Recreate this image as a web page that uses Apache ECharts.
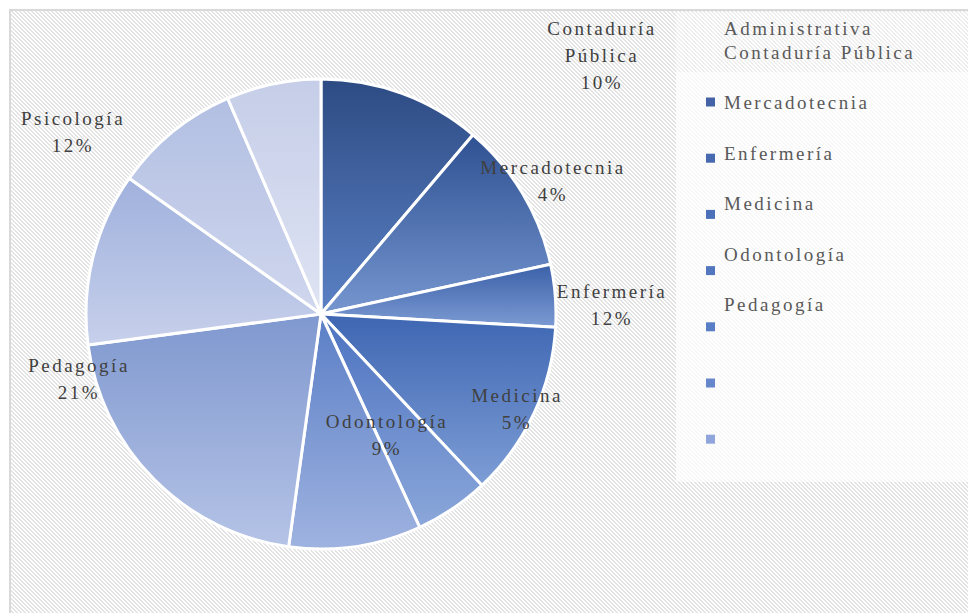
<!DOCTYPE html>
<html>
<head>
<meta charset="utf-8">
<script src="https://cdn.jsdelivr.net/npm/echarts@6/dist/echarts.min.js"></script>
<style>
html,body{margin:0;padding:0;background:#fff;}
#wrap{position:relative;width:968px;height:613px;overflow:hidden;}
#box{position:absolute;left:9px;top:9px;width:980px;height:620px;border-left:2px solid #d9d9d9;border-top:2px solid #d9d9d9;}
#chart{position:absolute;left:0;top:0;width:968px;height:613px;}
#chart text{letter-spacing:2.5px;}
</style>
</head>
<body>
<div id="wrap"><div id="box"></div><div id="chart"></div></div>
<script>
// datos del grafico
var carreras=['Administrativa','Contaduría Pública','Mercadotecnia','Enfermería','Medicina','Odontología','Pedagogía','Psicología',' ','  '];
var valores=[11.2,10.4,4.3,12.1,5.1,9.1,20.7,11.9,8.7,6.5];
var conEtiqueta=['Contaduría Pública','Mercadotecnia','Enfermería','Medicina','Odontología','Pedagogía','Psicología'];
var leyendaMarcas=['Mercadotecnia','Enfermería','Medicina','Odontología','Pedagogía','Psicología',' '];
var leyendaTextos=['Mercadotecnia','Enfermería','Medicina','Odontología','Pedagogía'];
var encabezado=['Administrativa','Contaduría Pública'];

// colores (arriba -> abajo) de cada rebanada
var colArriba=['#2d4b83','#2f5192','#3b60a8','#3e66b2','#4c72c0','#5a7ec6','#7f98cf','#a0b1dd','#b2bfe2','#c5cde8'];
var colAbajo=['#5b81c5','#7596cf','#7c9bd3','#7d9dd5','#8ba7da','#9fb3e0','#b5c3e6','#c7d0eb','#d0d7ee','#dfe4f3'];
var colMarcas=['#4463a6','#4669b0','#4b70b9','#5277bf','#587ec5','#6787cd','#90a5db'];

// posicion de las etiquetas como en el original
var posEtiqueta={
    'Contaduría Pública':[602,55],
    'Mercadotecnia':[553,181],
    'Enfermería':[612,305],
    'Medicina':[517,409],
    'Odontología':[387,435],
    'Pedagogía':[79,379],
    'Psicología':[73,132]
};

// fondo rayado
var tile=document.createElement('canvas');
tile.width=4;tile.height=4;
var ctx=tile.getContext('2d');
ctx.fillStyle='#fff';ctx.fillRect(0,0,4,4);
ctx.fillStyle='#e3e3e3';
for(var y=0;y<4;y++){
    for(var x=0;x<4;x++){
        if(((x-y)%4+4)%4<2){ctx.fillRect(x,y,1,1);}
    }
}
document.getElementById('box').style.backgroundImage='url('+tile.toDataURL()+')';

var fuente='Liberation Serif';

var datos=[];
for(var i=0;i<carreras.length;i++){
    datos.push({
        name:carreras[i],
        value:valores[i],
        label:{show:conEtiqueta.indexOf(carreras[i])>=0},
        itemStyle:{
            color:{type:'linear',x:0,y:0,x2:0,y2:1,colorStops:[
                {offset:0,color:colArriba[i]},
                {offset:1,color:colAbajo[i]}
            ]}
        }
    });
}

var marcas=[];
for(var i=0;i<leyendaMarcas.length;i++){
    marcas.push({name:leyendaMarcas[i],itemStyle:{color:colMarcas[i],borderWidth:0}});
}

var myChart=echarts.init(document.getElementById('chart'),null,{renderer:'svg'});

var option={
    backgroundColor:'transparent',
    animation:false,
    title:{
        text:encabezado.join('\n'),
        left:724,
        top:16,
        padding:0,
        textStyle:{fontFamily:fuente,fontWeight:'normal',fontSize:19,lineHeight:24,color:'#595959'}
    },
    graphic:[
        {type:'rect',z:0,shape:{x:676,y:12,width:300,height:60},style:{fill:'#fff',opacity:0.4}},
        {type:'rect',z:0,shape:{x:676,y:72,width:300,height:410},style:{fill:'#fff',opacity:0.75}}
    ],
    legend:[{
        orient:'vertical',
        left:706,
        top:97.5,
        padding:0,
        itemWidth:9,
        itemHeight:9,
        itemGap:47.2,
        icon:'rect',
        selectedMode:false,
        itemStyle:{borderWidth:0},
        data:marcas,
        formatter:function(){return '';},
        textStyle:{fontSize:2,lineHeight:2}
    },{
        orient:'vertical',
        left:718,
        top:92.5,
        padding:0,
        itemWidth:1,
        itemHeight:1,
        itemGap:30.5,
        icon:'none',
        selectedMode:false,
        data:leyendaTextos,
        textStyle:{fontFamily:fuente,fontSize:19,lineHeight:20,color:'#595959'}
    }],
    series:[{
        type:'pie',
        center:[321,314],
        radius:235,
        startAngle:90,
        clockwise:true,
        percentPrecision:0,
        itemStyle:{borderColor:'#fff',borderWidth:3},
        label:{
            position:'inside',
            formatter:function(p){return p.name.replace(' ','\n')+'\n'+p.percent+'%';},
            fontFamily:fuente,
            fontSize:19,
            lineHeight:27,
            color:'#404040'
        },
        labelLine:{show:false},
        labelLayout:function(p){
            var pos=posEtiqueta[carreras[p.dataIndex]];
            if(!pos){return {};}
            return {x:pos[0],y:pos[1],align:'center',verticalAlign:'middle'};
        },
        emphasis:{disabled:true},
        data:datos
    }]
};

myChart.setOption(option);
</script>
</body>
</html>
